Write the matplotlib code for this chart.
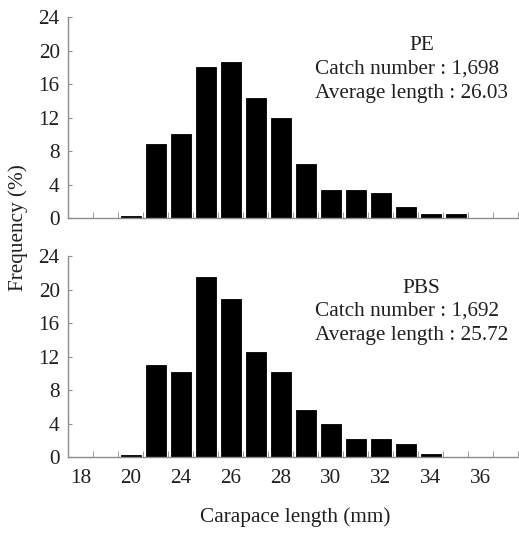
import numpy as np
import matplotlib
matplotlib.use("Agg")
import matplotlib.pyplot as plt

plt.rcParams["font.family"] = ["Liberation Serif", "DejaVu Serif"]

# 18 length classes, labels shown on every other class
categories = np.arange(18)
tick_labels = ["18", "20", "24", "26", "28", "30", "32", "34", "36"]
pe_freq = [0, 0, 0.24, 8.8, 10.1, 18.1, 18.7, 14.3, 11.9, 6.5, 3.3, 3.4, 3.0, 1.3, 0.5, 0.5, 0, 0]
pbs_freq = [0, 0, 0.24, 11.0, 10.2, 21.5, 18.9, 12.5, 10.2, 5.6, 4.0, 2.2, 2.2, 1.6, 0.4, 0, 0, 0]
panel_names = ["PE", "PBS"]
catch_numbers = ["1,698", "1,692"]
avg_lengths = ["26.03", "25.72"]

txt_color = "#231f20"
axis_color = "#8c8c8c"
fs = 15.3

fig = plt.figure(figsize=(5.19, 5.33), dpi=100)
ax_top = fig.add_axes([0.131, 0.591, 0.868, 0.3765])
ax_bot = fig.add_axes([0.131, 0.1426, 0.868, 0.3765])

text_y = [(0.86, 0.74, 0.62), (0.842, 0.726, 0.606)]

for i, (ax, freq) in enumerate(zip([ax_top, ax_bot], [pe_freq, pbs_freq])):
    ax.bar(categories, freq, width=0.8, color="black", edgecolor="black", linewidth=0.6)
    ax.set_xlim(-0.5, 17.5)
    ax.set_ylim(0, 24)
    ax.set_yticks(np.arange(0, 25, 4))
    for s in ["top", "right"]:
        ax.spines[s].set_visible(False)
    for s in ["left", "bottom"]:
        ax.spines[s].set_color(axis_color)
        ax.spines[s].set_linewidth(1.0)
    ax.tick_params(axis="y", direction="in", length=3, color=axis_color,
                   labelsize=fs, labelcolor=txt_color, pad=6)
    ax.set_xticks(categories[::2])
    ax.set_xticks(categories + 0.5, minor=True)
    ax.tick_params(axis="x", which="major", length=0, labelsize=fs,
                   labelcolor=txt_color, pad=9)
    ax.tick_params(axis="x", which="minor", direction="in", length=4,
                   color=axis_color)
    if i == 0:
        ax.set_xticklabels([])
    else:
        ax.set_xticklabels(tick_labels)

    ty = text_y[i]
    ax.text(0.785, ty[0], panel_names[i], transform=ax.transAxes, ha="center",
            va="center", fontsize=fs, color=txt_color)
    ax.text(0.548, ty[1], "Catch number : " + catch_numbers[i], transform=ax.transAxes,
            ha="left", va="center", fontsize=fs, color=txt_color)
    ax.text(0.548, ty[2], "Average length : " + avg_lengths[i], transform=ax.transAxes,
            ha="left", va="center", fontsize=fs, color=txt_color)

fig.text(0.035, 0.573, "Frequency (%)", rotation=90, ha="center", va="center",
         fontsize=fs, color=txt_color)
fig.text(0.568, 0.030, "Carapace length (mm)", ha="center", va="center",
         fontsize=fs, color=txt_color)

fig.savefig("out.png", dpi=100)
